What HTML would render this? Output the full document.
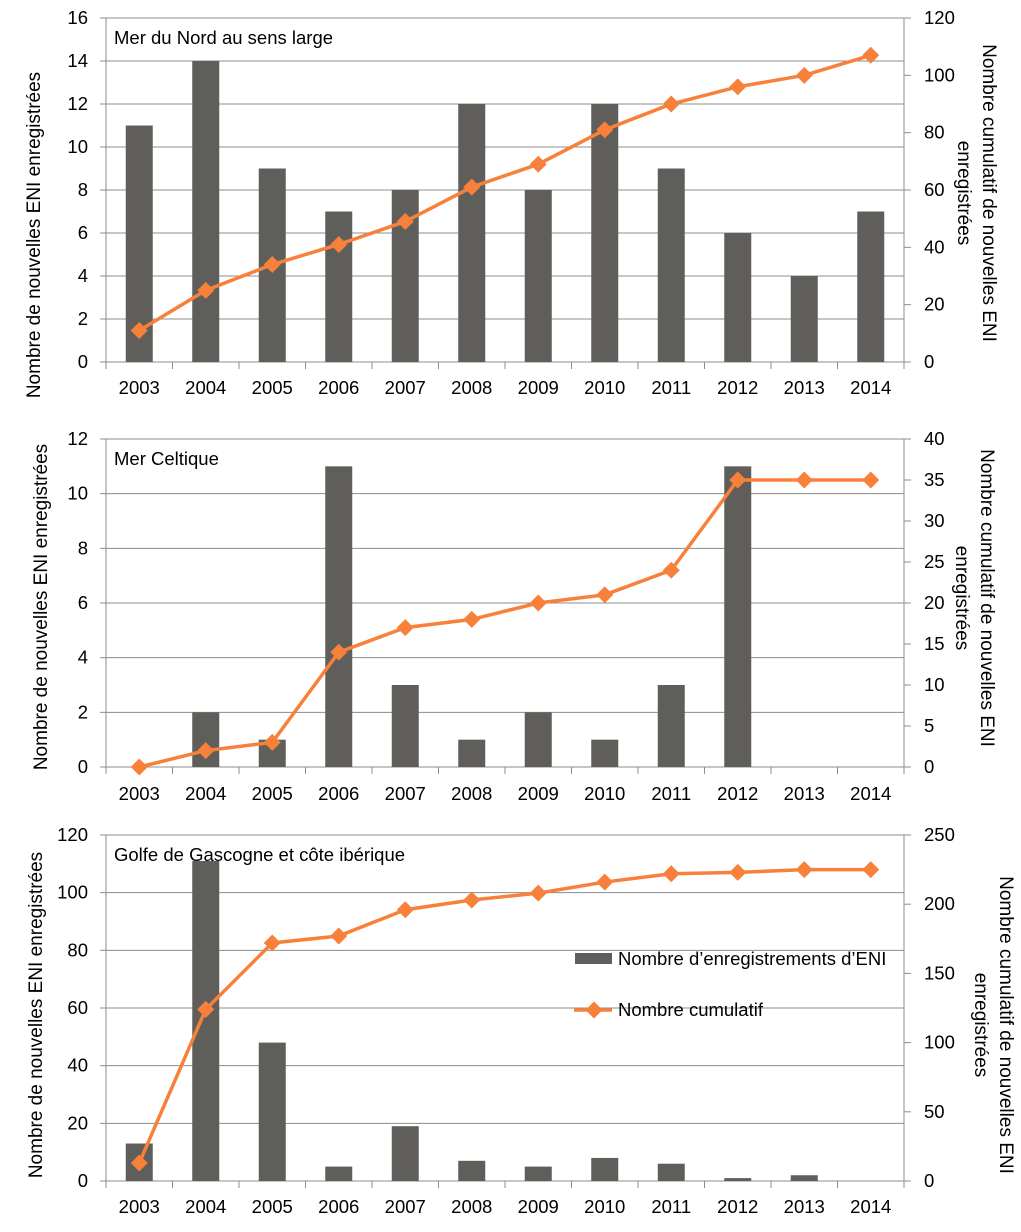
<!DOCTYPE html>
<html><head><meta charset="utf-8"><style>
body{margin:0;background:#fff;}
svg{display:block;font-family:"Liberation Sans","DejaVu Sans",sans-serif;}
text{font-size:18px;fill:#000;}
</style></head><body>
<svg id="s" width="1021" height="1232" xmlns="http://www.w3.org/2000/svg"></svg>
<script>
const S=document.getElementById('s');let h='';
const L=106,R=904,cw=(R-L)/12;
const charts=[
{top:18,bot:362,lmax:16,lstep:2,rmax:120,rstep:20,title:'Mer du Nord au sens large',tw:250,
bars:[11,14,9,7,8,12,8,12,9,6,4,7],cum:[11,25,34,41,49,61,69,81,90,96,100,107],
ly:235,lx:40,rx:[990,965],ry:193,yl:394},
{top:439,bot:767,lmax:12,lstep:2,rmax:40,rstep:5,title:'Mer Celtique',tw:120,
bars:[0,2,1,11,3,1,2,1,3,11,0,0],cum:[0,2,3,14,17,18,20,21,24,35,35,35],
ly:607,lx:47,rx:[988,963],ry:598,yl:800},
{top:835,bot:1181,lmax:120,lstep:20,rmax:250,rstep:50,title:'Golfe de Gascogne et côte ibérique',tw:320,
bars:[13,111,48,5,19,7,5,8,6,1,2,0],cum:[13,124,172,177,196,203,208,216,222,223,225,225],
ly:1015,lx:42,rx:[1007,982],ry:1025,yl:1213}];
charts.forEach(c=>{
 const H=c.bot-c.top;
 for(let v=0;v<=c.lmax;v+=c.lstep){const y=c.bot-v/c.lmax*H;
  if(v>0)h+=`<line x1="${L}" x2="${R}" y1="${y}" y2="${y}" stroke="#8c8c8c" stroke-width="1"/>`;
  h+=`<line x1="100" x2="${L}" y1="${y}" y2="${y}" stroke="#8c8c8c"/>`;
  h+=`<text x="88" y="${y+6}" text-anchor="end" style="font-size:18.5px">${v}</text>`;}
 for(let v=0;v<=c.rmax;v+=c.rstep){const y=c.bot-v/c.rmax*H;
  h+=`<line x1="${R}" x2="${R+7}" y1="${y}" y2="${y}" stroke="#8c8c8c"/>`;
  h+=`<text x="924" y="${y+6}" style="font-size:18.5px">${v}</text>`;}
 h+=`<line x1="${L}" x2="${L}" y1="${c.top}" y2="${c.bot}" stroke="#8c8c8c"/>`;
 h+=`<line x1="${R}" x2="${R}" y1="${c.top}" y2="${c.bot}" stroke="#8c8c8c"/>`;
 h+=`<line x1="${L}" x2="${R}" y1="${c.bot}" y2="${c.bot}" stroke="#8c8c8c"/>`;
 for(let i=0;i<=12;i++){const x=L+i*cw;h+=`<line x1="${x}" x2="${x}" y1="${c.bot}" y2="${c.bot+7}" stroke="#8c8c8c"/>`;}
 c.bars.forEach((b,i)=>{const x=L+i*cw+cw/2;const bh=b/c.lmax*H;
  if(b>0)h+=`<rect x="${x-13.5}" y="${c.bot-bh}" width="27" height="${bh}" fill="#5f5e5a"/>`;
  h+=`<text x="${x}" y="${c.yl}" text-anchor="middle" style="font-size:18.5px">${2003+i}</text>`;});
 h+=`<rect x="109" y="${c.top+1}" width="${c.tw}" height="25" fill="#fff"/>`;
 const pts=c.cum.map((v,i)=>[L+i*cw+cw/2,c.bot-v/c.rmax*H]);
 h+=`<polyline points="${pts.map(p=>p.join(',')).join(' ')}" fill="none" stroke="#f7813a" stroke-width="3.5"/>`;
 pts.forEach(p=>h+=`<rect x="${p[0]-6}" y="${p[1]-6}" width="12" height="12" fill="#f7813a" transform="rotate(45 ${p[0]} ${p[1]})"/>`);
 h+=`<text x="114" y="${c.top+26}" style="font-size:18.5px">${c.title}</text>`;
 h+=`<text transform="translate(${c.lx} ${c.ly}) rotate(-90)" text-anchor="middle" style="font-size:19px">Nombre de nouvelles ENI enregistrées</text>`;
 h+=`<text transform="translate(${c.rx[0]-7} ${c.ry}) rotate(90)" text-anchor="middle" style="font-size:19px">Nombre cumulatif de nouvelles ENI</text>`;
 h+=`<text transform="translate(${c.rx[1]-7} ${c.ry}) rotate(90)" text-anchor="middle" style="font-size:19px">enregistrées</text>`;
});
h+=`<rect x="575" y="953" width="37" height="11" fill="#5f5e5a"/><text x="618" y="965" style="font-size:18.5px">Nombre d’enregistrements d’ENI</text>`;
h+=`<line x1="574" x2="612" y1="1010" y2="1010" stroke="#f7813a" stroke-width="3.5"/><rect x="588" y="1004" width="12" height="12" fill="#f7813a" transform="rotate(45 594 1010)"/><text x="618" y="1016" style="font-size:18.5px">Nombre cumulatif</text>`;
S.innerHTML=h;
</script>
</body></html>
